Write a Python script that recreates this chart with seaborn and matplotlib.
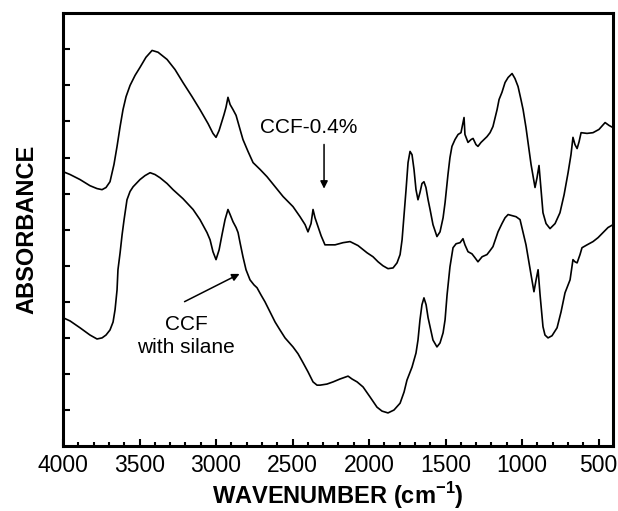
import numpy as np
import pandas as pd
import matplotlib
matplotlib.use("Agg")
import matplotlib.pyplot as plt
import seaborn as sns
from matplotlib.ticker import MultipleLocator, FixedLocator

# ---- data ----
wn_top = [4000, 3954, 3889, 3824, 3778, 3745, 3719, 3693, 3667, 3647, 3627, 3608,
          3588, 3562, 3529, 3497, 3458, 3418, 3379, 3320, 3268, 3216, 3157, 3105,
          3052, 3020, 3000, 2980, 2948, 2935, 2922, 2908, 2889, 2869, 2856, 2843,
          2824, 2791, 2758, 2712, 2667, 2614, 2562, 2497, 2451, 2418, 2399, 2379,
          2366, 2353, 2333, 2313, 2288, 2222, 2170, 2124, 2072, 2013, 1974, 1941,
          1909, 1876, 1843, 1817, 1797, 1784, 1771, 1758, 1745, 1732, 1719, 1706,
          1693, 1680, 1667, 1654, 1641, 1628, 1614, 1601, 1582, 1556, 1536, 1516,
          1503, 1484, 1471, 1458,
          1438, 1418, 1399, 1379, 1373, 1353, 1333, 1320, 1301, 1288, 1268, 1248,
          1229, 1209, 1190, 1176, 1163, 1150, 1131, 1111, 1091, 1065, 1046, 1026,
          1007, 993, 974, 961, 941, 915, 902, 889, 876, 863, 843, 817, 784, 752,
          725, 699, 680, 667, 654, 640, 627, 614, 575, 536, 497, 457, 431, 405]
abs_top = [7.61, 7.53, 7.39, 7.22, 7.14, 7.11, 7.17, 7.33, 7.81, 8.31, 8.86, 9.33,
           9.69, 10.00, 10.28, 10.50, 10.78, 10.97, 10.92, 10.72, 10.44, 10.08, 9.69, 9.33,
           8.94, 8.67, 8.56, 8.75, 9.19, 9.39, 9.67, 9.47, 9.33, 9.17, 8.97, 8.78,
           8.50, 8.17, 7.86, 7.67, 7.47, 7.19, 6.92, 6.64, 6.36, 6.14, 5.94, 6.17,
           6.56, 6.33, 6.08, 5.83, 5.58, 5.58, 5.64, 5.67, 5.56, 5.36, 5.25, 5.11,
           5.00, 4.92, 4.94, 5.08, 5.31, 5.72, 6.42, 7.11, 7.86, 8.17, 8.08, 7.67,
           7.11, 6.83, 7.03, 7.28, 7.33, 7.17, 6.83, 6.56, 6.14, 5.81, 5.94, 6.33,
           6.75, 7.53, 8.00, 8.31,
           8.50, 8.64, 8.69, 9.11, 8.64, 8.42, 8.50, 8.53, 8.36, 8.31, 8.42, 8.50,
           8.58, 8.69, 8.86, 9.11, 9.33, 9.61, 9.81, 10.08, 10.22, 10.33, 10.19, 9.97,
           9.61, 9.33, 8.83, 8.42, 7.81, 7.17, 7.44, 7.78, 7.11, 6.47, 6.17, 6.03, 6.17, 6.47,
           6.97, 7.58, 8.08, 8.56, 8.36, 8.25, 8.44, 8.69, 8.67, 8.69, 8.78, 8.97, 8.89, 8.83]

wn_bot = [4000, 3954, 3889, 3824, 3778, 3745, 3719, 3693, 3673, 3660, 3647, 3641,
          3627, 3614, 3601, 3582, 3562, 3542, 3497, 3464, 3431, 3399, 3366, 3320,
          3281, 3216, 3150, 3105, 3059, 3039, 3020, 3000, 2980, 2961, 2941, 2922,
          2908, 2889, 2869, 2856, 2843, 2824, 2804, 2778, 2752, 2732, 2706, 2680,
          2647, 2614, 2582, 2549, 2497, 2464, 2431, 2399, 2366, 2340, 2320, 2275,
          2235, 2190, 2137, 2111, 2078, 2039, 1993, 1948, 1915, 1876, 1837, 1797,
          1771, 1752, 1719, 1693, 1680, 1667, 1654, 1641, 1627, 1614, 1601, 1582,
          1556, 1536, 1516, 1503, 1490, 1471, 1451, 1431, 1405, 1386, 1373, 1353,
          1327, 1307, 1288, 1261, 1229, 1209, 1190, 1170, 1157, 1131, 1111, 1091,
          1065, 1039, 1013, 993, 974, 961, 941, 922, 908, 895, 882, 863, 850, 830,
          804, 771, 745, 719, 699, 686, 667, 654, 640, 621, 608, 575, 536, 503,
          471, 438, 405]
abs_bot = [3.56, 3.47, 3.28, 3.08, 2.97, 3.00, 3.08, 3.22, 3.44, 3.78, 4.33, 4.89,
           5.36, 5.86, 6.28, 6.83, 7.06, 7.19, 7.39, 7.50, 7.58, 7.53, 7.44, 7.28,
           7.11, 6.86, 6.56, 6.28, 5.92, 5.72, 5.39, 5.17, 5.44, 5.86, 6.28, 6.56,
           6.42, 6.22, 6.06, 5.92, 5.64, 5.25, 4.89, 4.61, 4.47, 4.39, 4.19, 4.00,
           3.72, 3.44, 3.22, 3.00, 2.75, 2.56, 2.31, 2.06, 1.78, 1.69, 1.69, 1.72,
           1.78, 1.86, 1.94, 1.86, 1.78, 1.64, 1.36, 1.08, 0.97, 0.92, 1.00, 1.19,
           1.50, 1.83, 2.19, 2.58, 2.94, 3.50, 3.92, 4.11, 3.92, 3.56, 3.31, 2.94,
           2.75, 2.86, 3.14, 3.50, 4.19, 4.97, 5.50, 5.61, 5.64, 5.75, 5.58, 5.39,
           5.33, 5.22, 5.11, 5.25, 5.31, 5.42, 5.53, 5.78, 5.94, 6.17, 6.33, 6.42,
           6.39, 6.36, 6.28, 5.92, 5.58, 5.25, 4.75, 4.28, 4.61, 4.89, 4.19, 3.31, 3.08, 3.00,
           3.06, 3.28, 3.72, 4.25, 4.47, 4.61, 5.17, 5.11, 5.08, 5.31, 5.50, 5.58, 5.67, 5.78,
           5.92, 6.06, 6.14]

series_names = ["CCF-0.4%", "CCF with silane"]
x_ticks = [4000, 3500, 3000, 2500, 2000, 1500, 1000, 500]
y_ticks = [1, 2, 3, 4, 5, 6, 7, 8, 9, 10, 11]

df = pd.concat([
    pd.DataFrame({"wn": wn_top, "abs": abs_top, "series": series_names[0]}),
    pd.DataFrame({"wn": wn_bot, "abs": abs_bot, "series": series_names[1]}),
])

sns.set_style("ticks")
plt.rcParams["font.family"] = ["Liberation Sans", "DejaVu Sans"]
plt.rcParams["text.color"] = "black"
plt.rcParams["axes.labelcolor"] = "black"
plt.rcParams["xtick.color"] = "black"
plt.rcParams["ytick.color"] = "black"

fig = plt.figure(figsize=(6.18, 5.11), dpi=100)
ax = fig.add_axes([0.102, 0.127, 0.890, 0.847])

sns.lineplot(data=df, x="wn", y="abs", units="series", estimator=None, sort=False,
             color="black", lw=1.2, ax=ax, legend=False)

ax.set_xlim(4000, 405)
ax.set_ylim(0, 12)
ax.xaxis.set_major_locator(FixedLocator(x_ticks))
ax.xaxis.set_minor_locator(MultipleLocator(100))
ax.yaxis.set_major_locator(FixedLocator(y_ticks))
ax.set_yticklabels([])
ax.tick_params(axis="x", which="major", direction="in", length=5, width=1.5,
               labelsize=16.5, pad=6, colors="black", top=False)
ax.tick_params(axis="x", which="minor", direction="in", length=3, width=1.5, top=False)
ax.tick_params(axis="y", which="major", direction="in", length=5, width=1.5, right=False)

for s in ax.spines.values():
    s.set_linewidth(2.2)
    s.set_color("black")
    s.set_visible(True)

ax.set_xlabel(r"WAVENUMBER (cm$^{\mathregular{-1}}$)", fontsize=17, fontweight="bold",
              labelpad=2, color="black")
ax.set_ylabel("ABSORBANCE", fontsize=17, fontweight="bold", labelpad=14, color="black")

# annotations
ax.text(2392, 8.83, "CCF-0.4%", fontsize=15, ha="center", va="center", color="black")
ax.annotate("", xy=(2294, 7.06), xytext=(2294, 8.44),
            arrowprops=dict(arrowstyle="-|>", lw=1.1, color="black", mutation_scale=11))
ax.text(3196, 3.06, "CCF\nwith silane", fontsize=15, ha="center", va="center",
        linespacing=1.25, color="black")
ax.annotate("", xy=(2830, 4.81), xytext=(3222, 3.97),
            arrowprops=dict(arrowstyle="-|>", lw=1.1, color="black", mutation_scale=11))

fig.savefig("out.png", dpi=100)
